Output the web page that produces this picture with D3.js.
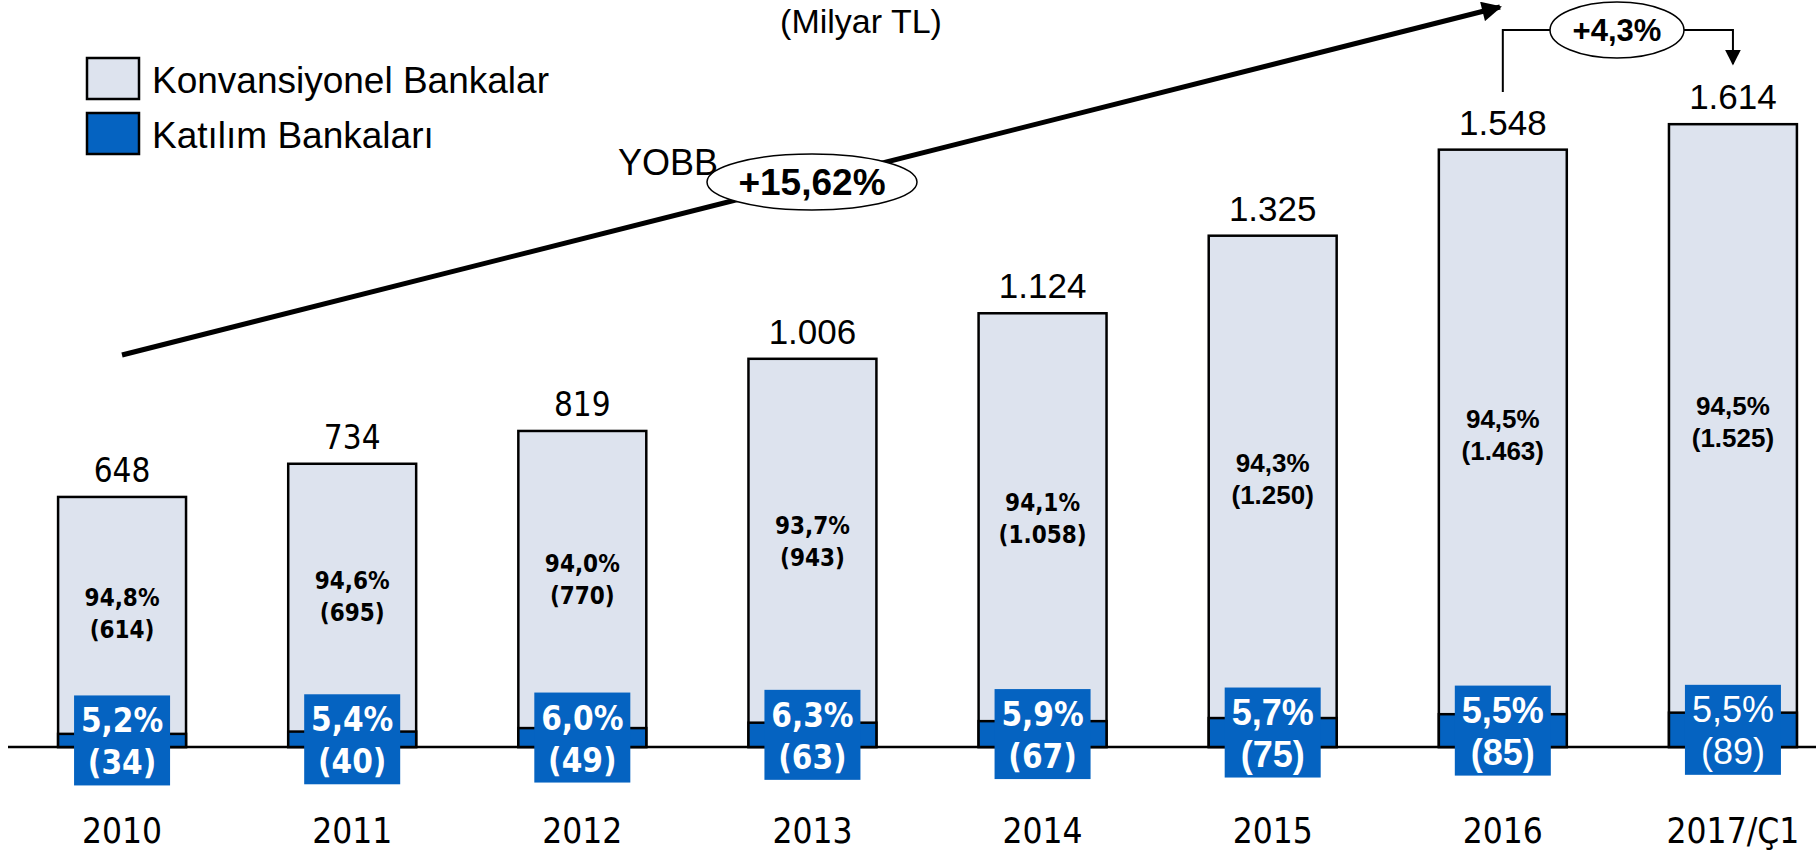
<!DOCTYPE html>
<html>
<head>
<meta charset="utf-8">
<script src="https://cdn.jsdelivr.net/npm/d3@7"></script>
<style>
  body { margin: 0; background: #fff; }
  svg { display: block; }
  .tah { font-family: "DejaVu Sans Condensed", "DejaVu Sans", sans-serif; font-stretch: condensed; }
  .ari { font-family: "Liberation Sans", Arial, sans-serif; }
</style>
</head>
<body>
<div id="vis"></div>
<script>
// yillar ve degerler (Milyar TL)
var years = ["2010", "2011", "2012", "2013", "2014", "2015", "2016", "2017/Ç1"];
var totals = [648, 734, 819, 1006, 1124, 1325, 1548, 1614];
var konv = [614, 695, 770, 943, 1058, 1250, 1463, 1525];
var katilim = [34, 40, 49, 63, 67, 75, 85, 89];
var konvShare = ["94,8%", "94,6%", "94,0%", "93,7%", "94,1%", "94,3%", "94,5%", "94,5%"];
var katShare = ["5,2%", "5,4%", "6,0%", "6,3%", "5,9%", "5,7%", "5,5%", "5,5%"];
var legendLabels = ["Konvansiyonel Bankalar", "Katılım Bankaları"];
var cagr = "+15,62%";
var lastGrowth = "+4,3%";

var width = 1816, height = 852;
var lightFill = "#dde3ee", blue = "#0563c1";

var tr = d3.formatLocale({decimal: ",", thousands: ".", grouping: [3], currency: ["", ""]});
var fmt = tr.format(",d");

var svg = d3.select("#vis").append("svg")
  .attr("width", width)
  .attr("height", height);

var defs = svg.append("defs");
defs.append("marker")
  .attr("id", "bigHead")
  .attr("viewBox", "0 0 10 10")
  .attr("refX", 9).attr("refY", 5)
  .attr("markerWidth", 5).attr("markerHeight", 4)
  .attr("markerUnits", "strokeWidth")
  .attr("orient", "auto")
  .append("path").attr("d", "M0,0L10,5L0,10Z").attr("fill", "#000");
defs.append("marker")
  .attr("id", "smallHead")
  .attr("viewBox", "0 0 10 10")
  .attr("refX", 9).attr("refY", 5)
  .attr("markerWidth", 8).attr("markerHeight", 8)
  .attr("markerUnits", "strokeWidth")
  .attr("orient", "auto")
  .append("path").attr("d", "M0,0L10,5L0,10Z").attr("fill", "#000");

// scales
var x = d3.scaleBand()
  .domain(years)
  .range([7, 1848])
  .paddingInner(0.444)
  .paddingOuter(0.222);

var y = d3.scaleLinear()
  .domain([0, 1700])
  .range([747, 91]);

var bw = x.bandwidth();
function cx(d) { return x(d) + bw / 2; }

// baseline
svg.append("line")
  .attr("x1", 8).attr("x2", width)
  .attr("y1", y(0)).attr("y2", y(0))
  .attr("stroke", "#000").attr("stroke-width", 2.5);

var data = years.map(function(d, i) {
  return {year: d, i: i, total: totals[i], konv: konv[i], kat: katilim[i]};
});

var g = svg.selectAll(".bar").data(data).enter().append("g").attr("class", "bar");

g.append("rect")
  .attr("x", function(d) { return x(d.year); })
  .attr("y", function(d) { return y(d.total); })
  .attr("width", bw)
  .attr("height", function(d) { return y(0) - y(d.total); })
  .attr("fill", lightFill)
  .attr("stroke", "#000").attr("stroke-width", 2.5);

g.append("rect")
  .attr("x", function(d) { return x(d.year); })
  .attr("y", function(d) { return y(d.kat); })
  .attr("width", bw)
  .attr("height", function(d) { return y(0) - y(d.kat); })
  .attr("fill", blue)
  .attr("stroke", "#000").attr("stroke-width", 2.5);

// blue label boxes, centred on the blue segment
var boxW = 96, boxH = 90;
function boxMid(d) { return (y(d.kat) + y(0)) / 2; }

g.append("rect")
  .attr("x", function(d) { return cx(d.year) - boxW / 2; })
  .attr("y", function(d) { return boxMid(d) - boxH / 2; })
  .attr("width", boxW).attr("height", boxH)
  .attr("fill", blue);

var blueTxt = g.append("text")
  .attr("class", function(d) { return d.i < 5 ? "tah" : "ari"; })
  .attr("text-anchor", "middle")
  .attr("fill", "#fff")
  .style("font-weight", function(d) { return d.i < 7 ? "bold" : "normal"; })
  .style("font-size", function(d) { return d.i < 5 ? "33px" : "36px"; });
blueTxt.append("tspan")
  .attr("x", function(d) { return cx(d.year); })
  .attr("y", function(d) { return boxMid(d) - 8; })
  .text(function(d) { return katShare[d.i]; });
blueTxt.append("tspan")
  .attr("x", function(d) { return cx(d.year); })
  .attr("y", function(d) { return boxMid(d) + 34; })
  .text(function(d) { return "(" + d.kat + ")"; });

// konvansiyonel share labels
function innerBase(d) { return (y(d.total) + boxMid(d) - boxH / 2) / 2 + 10; }
var inTxt = g.append("text")
  .attr("class", function(d) { return d.i < 5 ? "tah" : "ari"; })
  .attr("text-anchor", "middle")
  .attr("fill", "#000")
  .style("font-weight", "bold")
  .style("font-size", function(d) { return d.i < 5 ? "24px" : "26px"; });
inTxt.append("tspan")
  .attr("x", function(d) { return cx(d.year); })
  .attr("y", innerBase)
  .text(function(d) { return konvShare[d.i]; });
inTxt.append("tspan")
  .attr("x", function(d) { return cx(d.year); })
  .attr("y", function(d) { return innerBase(d) + 32; })
  .text(function(d) { return "(" + fmt(d.konv) + ")"; });

// totals on top
g.append("text")
  .attr("class", function(d) { return d.i < 3 ? "tah" : "ari"; })
  .attr("text-anchor", "middle")
  .attr("x", function(d) { return cx(d.year); })
  .attr("y", function(d) { return y(d.total) - 15; })
  .style("font-size", function(d) { return d.i < 3 ? "33px" : "35px"; })
  .text(function(d) { return fmt(d.total); });

// x axis labels
g.append("text")
  .attr("class", "tah")
  .attr("text-anchor", "middle")
  .attr("x", function(d) { return cx(d.year); })
  .attr("y", 843)
  .style("font-size", "35px")
  .text(function(d) { return d.year; });

// unit
svg.append("text")
  .attr("class", "ari")
  .attr("x", 861).attr("y", 33)
  .attr("text-anchor", "middle")
  .style("font-size", "34px")
  .text("(Milyar TL)");

// legend
var leg = svg.selectAll(".leg").data(legendLabels).enter().append("g")
  .attr("transform", function(d, i) { return "translate(87," + (58 + i * 55) + ")"; });
leg.append("rect")
  .attr("width", 52).attr("height", 41)
  .attr("fill", function(d, i) { return i == 0 ? lightFill : blue; })
  .attr("stroke", "#000").attr("stroke-width", 2.5);
leg.append("text")
  .attr("class", "ari")
  .attr("x", 65).attr("y", 35)
  .style("font-size", "37px")
  .text(function(d) { return d; });

// growth arrow (YOBB)
svg.append("line")
  .attr("x1", 122).attr("y1", 355)
  .attr("x2", 1500).attr("y2", 7)
  .attr("stroke", "#000").attr("stroke-width", 5)
  .attr("marker-end", "url(#bigHead)");

svg.append("text")
  .attr("class", "ari")
  .attr("x", 618).attr("y", 175)
  .style("font-size", "36px")
  .text("YOBB");

svg.append("ellipse")
  .attr("cx", 812).attr("cy", 182)
  .attr("rx", 105).attr("ry", 28)
  .attr("fill", "#fff").attr("stroke", "#000").attr("stroke-width", 1.5);
svg.append("text")
  .attr("class", "ari")
  .attr("x", 812).attr("y", 195)
  .attr("text-anchor", "middle")
  .style("font-size", "37px").style("font-weight", "bold")
  .text(cagr);

// last quarter bracket
var xa = cx(years[6]), xb = cx(years[7]);
svg.append("path")
  .attr("d", "M" + xa + ",92V30H" + xb + "V64")
  .attr("fill", "none")
  .attr("stroke", "#000").attr("stroke-width", 2)
  .attr("marker-end", "url(#smallHead)");
svg.append("ellipse")
  .attr("cx", 1617).attr("cy", 30)
  .attr("rx", 67).attr("ry", 28)
  .attr("fill", "#fff").attr("stroke", "#000").attr("stroke-width", 1.5);
svg.append("text")
  .attr("class", "ari")
  .attr("x", 1617).attr("y", 41)
  .attr("text-anchor", "middle")
  .style("font-size", "31px").style("font-weight", "bold")
  .text(lastGrowth);
</script>
</body>
</html>
